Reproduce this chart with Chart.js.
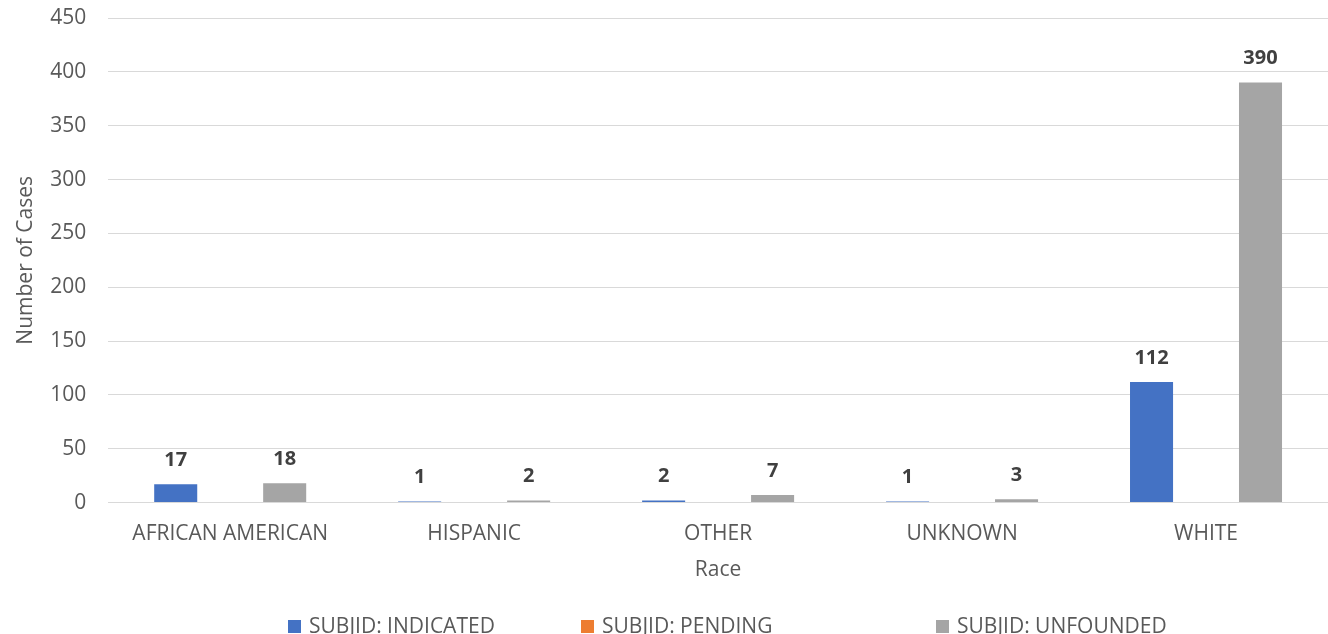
<!DOCTYPE html>
<html>
<head>
<meta charset="utf-8">
<script src="https://cdn.jsdelivr.net/npm/chart.js@4.4.1/dist/chart.umd.min.js"></script>
<style>
  html, body { margin: 0; padding: 0; background: #fff; }
  #wrap { width: 1328px; height: 634px; position: relative; overflow: hidden; }
  #legend { position: absolute; left: 0; top: 613px; width: 1328px; height: 24px;
    font-family: 'Open Sans', 'Noto Sans', sans-serif; font-size: 21px; color: #595959; }
  #legend .item { position: absolute; top: 0; white-space: nowrap; line-height: 24px; }
  #legend .box { display: inline-block; width: 13px; height: 13px; margin-right: 8px; vertical-align: 0px; }
</style>
</head>
<body>
<div id="wrap">
  <canvas id="chart"></canvas>
  <div id="legend"></div>
</div>
<script>
// 카테고리 & 시리즈 값
const races = ["AFRICAN AMERICAN", "HISPANIC", "OTHER", "UNKNOWN", "WHITE"];
const indicated = [17, 1, 2, 1, 112];
const pending = [0, 0, 0, 0, 0];
const unfounded = [18, 2, 7, 3, 390];
const yTicks = [0, 50, 100, 150, 200, 250, 300, 350, 400, 450];

const FONT = "'Open Sans', 'Noto Sans', sans-serif";
const TEXT = "#595959";

// 막대 위 값 표시 (0은 생략)
const valueLabels = {
  id: "valueLabels",
  afterDatasetsDraw(chart) {
    const ctx = chart.ctx;
    ctx.save();
    ctx.font = "bold 20px " + FONT;
    ctx.fillStyle = "#404040";
    ctx.textAlign = "center";
    ctx.textBaseline = "middle";
    chart.data.datasets.forEach((ds, i) => {
      const meta = chart.getDatasetMeta(i);
      meta.data.forEach((bar, j) => {
        const v = ds.data[j];
        if (!v) return;
        ctx.fillText(String(v), bar.x, bar.y - 24);
      });
    });
    ctx.restore();
  },
};

const chart = new Chart(document.getElementById("chart"), {
  type: "bar",
  data: {
    labels: races,
    datasets: [
      { label: "SUBJID: INDICATED", data: indicated, backgroundColor: "#4472c4" },
      { label: "SUBJID: PENDING", data: pending, backgroundColor: "#ed7d31" },
      { label: "SUBJID: UNFOUNDED", data: unfounded, backgroundColor: "#a5a5a5" },
    ],
  },
  options: {
    responsive: true,
    maintainAspectRatio: false,
    animation: false,
    layout: { padding: { top: 0, right: 0, left: 13, bottom: 51 } },
    datasets: { bar: { barPercentage: 0.79, categoryPercentage: 0.67 } },
    scales: {
      x: {
        grid: { display: false },
        border: { display: true, color: "#d9d9d9", width: 1 },
        ticks: { color: TEXT, font: { family: FONT, size: 21 }, padding: 11 },
        title: { display: true, text: "Race", color: TEXT, font: { family: FONT, size: 21 }, padding: { top: 0, bottom: 0 } },
      },
      y: {
        min: 0,
        max: 450,
        afterBuildTicks: (axis) => { axis.ticks = yTicks.map((v) => ({ value: v })); },
        afterFit: (axis) => { axis.paddingTop = 18; },
        grid: { color: "#d9d9d9", drawTicks: false },
        border: { display: false },
        ticks: { color: TEXT, font: { family: FONT, size: 21 }, padding: 22 },
        title: { display: true, text: "Number of Cases", color: TEXT, font: { family: FONT, size: 21 }, padding: { top: 0, bottom: -10 } },
      },
    },
    plugins: {
      legend: { display: false },
      tooltip: { enabled: false },
    },
  },
  plugins: [valueLabels],
});

// 범례 (HTML)
const legendLeft = [288, 581, 936];
const legendEl = document.getElementById("legend");
chart.data.datasets.forEach((ds, i) => {
  const item = document.createElement("span");
  item.className = "item";
  item.style.left = legendLeft[i] + "px";
  const box = document.createElement("span");
  box.className = "box";
  box.style.background = ds.backgroundColor;
  item.appendChild(box);
  item.appendChild(document.createTextNode(ds.label));
  legendEl.appendChild(item);
});
</script>
</body>
</html>
